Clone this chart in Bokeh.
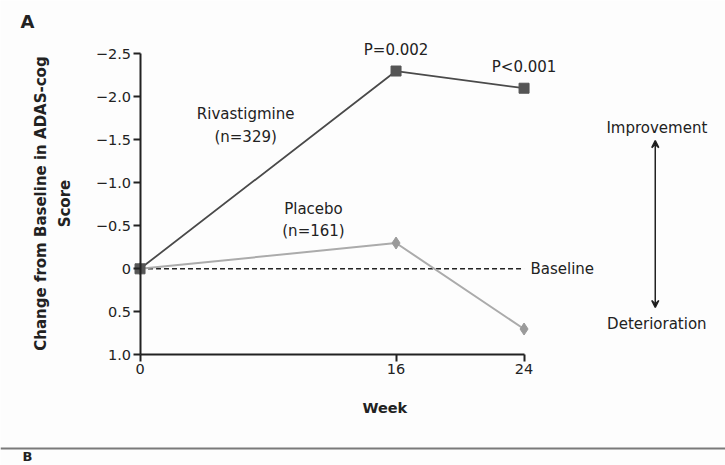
from bokeh.plotting import figure
from bokeh.models import Range1d, LinearAxis, FixedTicker, Span, Arrow, VeeHead
from bokeh.core.properties import value
from bokeh.embed import file_html
from bokeh.resources import INLINE

# Mean change from baseline in ADAS-cog score (negative = improvement)
weeks = [0, 16, 24]
rivastigmine = [0.0, -2.3, -2.1]
placebo = [0.0, -0.3, 0.7]
p_values = ["P=0.002", "P<0.001"]

y_ticks = [-2.5, -2.0, -1.5, -1.0, -0.5, 0.0, 0.5, 1.0]
y_tick_labels = ["\u22122.5", "\u22122.0", "\u22121.5", "\u22121.0", "\u22120.5", "0", "0.5", "1.0"]
x_ticks = [0, 16, 24]
x_tick_labels = ["0", "16", "24"]

FONT = "DejaVu Sans"
INK = "#222222"
BG = "#fdfdfd"
TXT = "15px"

p = figure(
    width=725, height=465,
    x_range=Range1d(-8.72, 36.59),
    y_range=Range1d(2.287, -3.12),   # inverted: improvement points upward
    x_axis_type=None, y_axis_type=None,
    output_backend="svg", toolbar_location=None,
    min_border=0, outline_line_color=None,
    background_fill_color=BG, border_fill_color=BG,
)


def style_axis(ax):
    ax.axis_line_color = INK
    ax.axis_line_width = 2
    ax.major_tick_line_color = INK
    ax.major_tick_line_width = 2
    ax.major_tick_in = 0
    ax.major_tick_out = 7
    ax.minor_tick_in = 0
    ax.minor_tick_out = 0
    ax.major_label_text_font = FONT
    ax.major_label_text_font_size = "14.5px"
    ax.major_label_text_color = INK
    ax.major_label_standoff = 2


yaxis = LinearAxis(
    fixed_location=0, bounds=(y_ticks[0], y_ticks[-1]),
    ticker=FixedTicker(ticks=y_ticks),
    major_label_overrides={t: s for t, s in zip(y_ticks, y_tick_labels)},
)
style_axis(yaxis)
p.add_layout(yaxis, "left")

xaxis = LinearAxis(
    fixed_location=y_ticks[-1], bounds=(x_ticks[0], x_ticks[-1]),
    ticker=FixedTicker(ticks=x_ticks),
    major_label_overrides={t: s for t, s in zip(x_ticks, x_tick_labels)},
)
style_axis(xaxis)
p.add_layout(xaxis, "below")

# Baseline reference
p.line([weeks[0], weeks[-1]], [0, 0], line_color=INK, line_width=1.5, line_dash="5 3")
p.text(x=[weeks[-1] + 0.4], y=[0], text=["Baseline"], text_font=value(FONT),
       text_font_size=TXT, text_color=INK, text_align="left", text_baseline="middle")

# Series
p.line(weeks, placebo, line_color="#ababab", line_width=2)
p.scatter(weeks, placebo, marker="diamond", size=12, color="#9a9a9a")
p.line(weeks, rivastigmine, line_color="#4a4a4a", line_width=1.8)
p.scatter(weeks, rivastigmine, marker="square", size=10, color="#555555")

# P-values above the rivastigmine points
p.text(x=weeks[1:], y=rivastigmine[1:], text=p_values, y_offset=[-21, -21],
       text_font=value(FONT), text_font_size=TXT, text_color=INK,
       text_align="center", text_baseline="middle")

# Series labels
p.text(x=[6.6, 6.6, 10.84, 10.84], y=[-1.806, -1.527, -0.701, -0.445],
       text=["Rivastigmine", "(n=329)", "Placebo", "(n=161)"],
       text_font=value(FONT), text_font_size=TXT, text_color=INK,
       text_align="center", text_baseline="middle")

# Direction indicator
p.add_layout(Arrow(
    start=VeeHead(size=7, line_width=1.5, line_color=INK),
    end=VeeHead(size=7, line_width=1.5, line_color=INK),
    x_start=32.2, y_start=0.45, x_end=32.2, y_end=-1.49,
    line_color=INK, line_width=1.5,
))
p.text(x=[32.3, 32.3], y=[-1.643, 0.636], text=["Improvement", "Deterioration"],
       text_font=value(FONT), text_font_size=TXT, text_color=INK,
       text_align="center", text_baseline="middle")

# Axis titles and panel letters
p.text(x=[15.3], y=[1.613], text=["Week"], text_font=value(FONT), text_font_size="14.5px",
       text_font_style="bold", text_color=INK, text_align="center", text_baseline="middle")
p.text(x=[-6.16, -4.66], y=[-0.759, -0.759],
       text=["Change from Baseline in ADAS-cog", "Score"], angle=1.5708,
       text_font=value(FONT), text_font_size="15px", text_font_style="bold",
       text_color=INK, text_align="center", text_baseline="middle")
p.text(x=[-7.03], y=[-2.876], text=["A"], text_font=value(FONT), text_font_size="18px",
       text_font_style="bold", text_color=INK, text_align="center", text_baseline="middle")
p.text(x=[-7.03], y=[2.264], text=["B"], text_font=value(FONT), text_font_size="13px",
       text_font_style="bold", text_color=INK, text_align="center", text_baseline="bottom")

p.add_layout(Span(location=2.09, dimension="width", line_color="#7a7a7a", line_width=2))

open("out.html", "w").write(file_html(p, INLINE))
